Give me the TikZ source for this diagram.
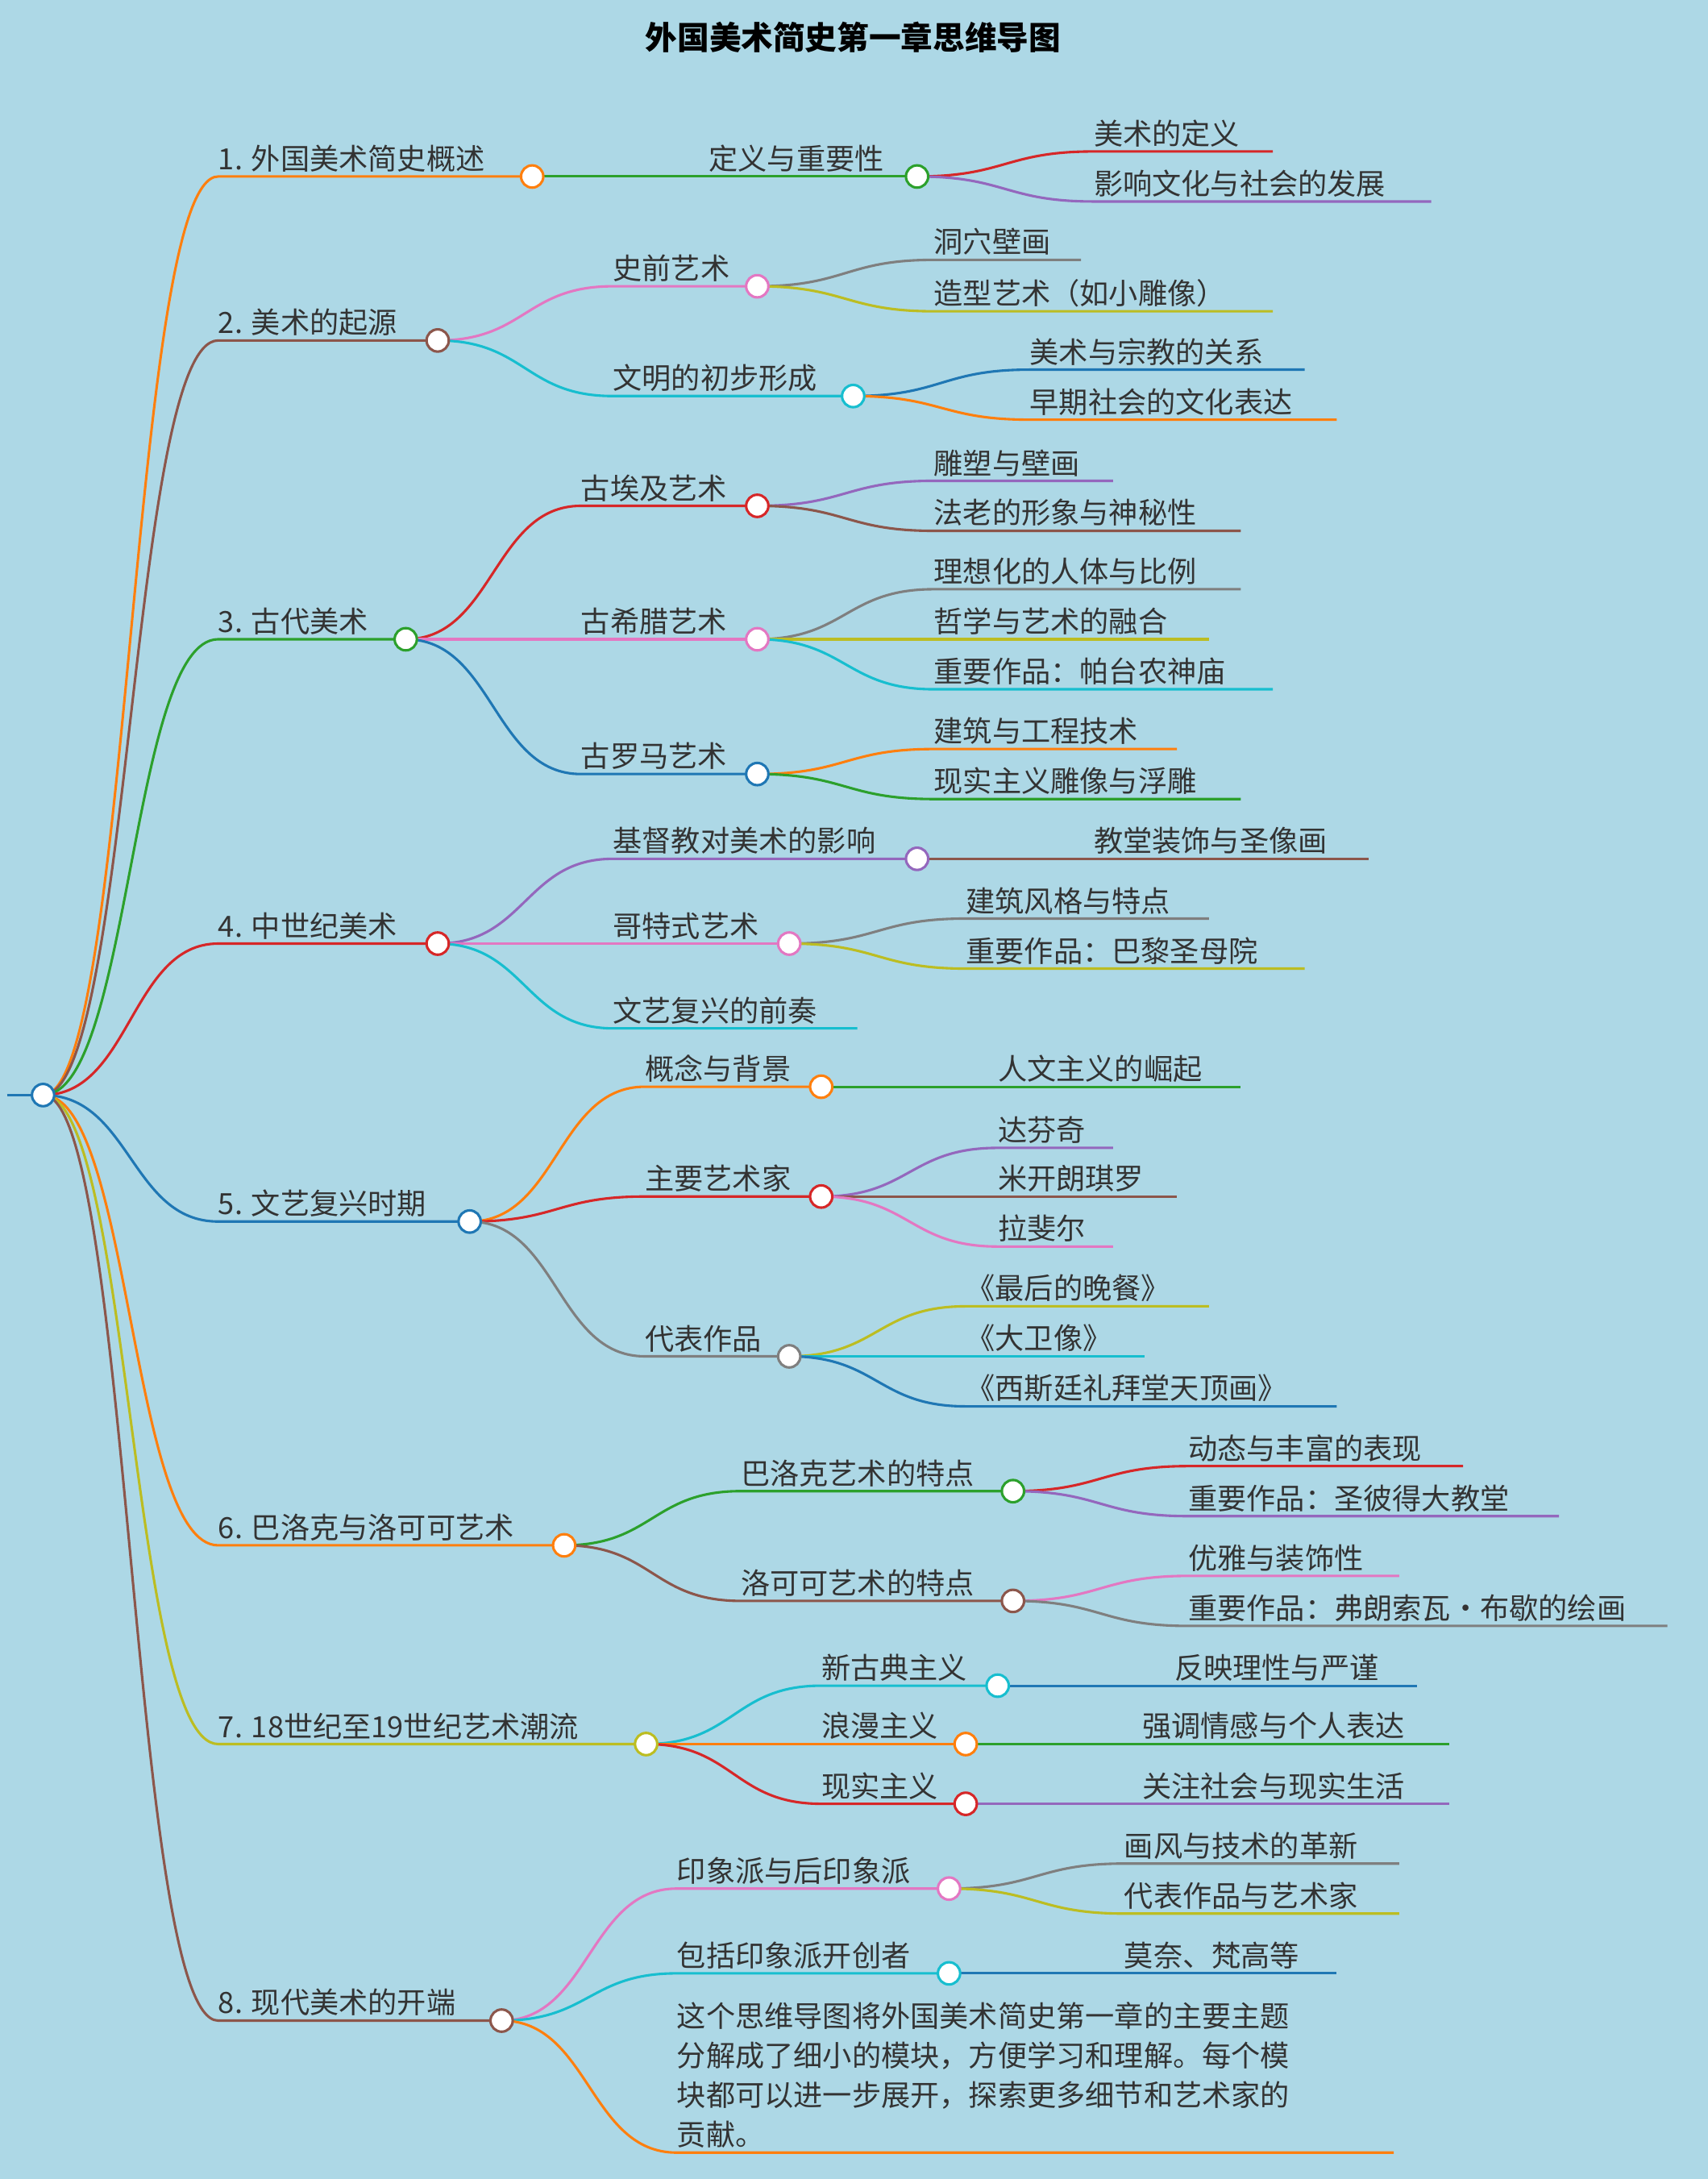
\documentclass[tikz,border=0pt]{standalone}
\usepackage{fontspec}
\setmainfont{Noto Sans CJK SC}
\usetikzlibrary{calc}
\definecolor{cblue}{HTML}{1F77B4}\definecolor{corange}{HTML}{FF7F0E}
\definecolor{cgreen}{HTML}{2CA02C}\definecolor{cred}{HTML}{D62728}
\definecolor{cpurple}{HTML}{9467BD}\definecolor{cbrown}{HTML}{8C564B}
\definecolor{cpink}{HTML}{E377C2}\definecolor{cgray}{HTML}{7F7F7F}
\definecolor{colive}{HTML}{BCBD22}\definecolor{ccyan}{HTML}{17BECF}
\definecolor{bg}{HTML}{ADD8E6}\definecolor{txt}{HTML}{333333}
\pgfdeclarelayer{fg}\pgfsetlayers{main,fg}
\tikzset{edge/.style={line width=1.8pt},
 lbl/.style={anchor=south west,inner xsep=0pt,inner ysep=3pt,text=txt,font=\fontsize{21}{26}\selectfont},
 dot/.style={circle,fill=white,line width=1.8pt,minimum size=16pt,inner sep=0pt}}
% #1 parent, #2 name, #3 startx, #4 y, #5 endx, #6 color, #7 text
\newcommand\br[7]{%
 \coordinate (#2s) at (#3,#4);\coordinate (#2) at (#5,#4);
 \draw[edge,#6] let \p1=(#1),\p2=(#2s) in (\p1) .. controls (\x1/2+\x2/2,\y1) and (\x1/2+\x2/2,\y2) .. (\p2) -- (#2);
 \node[lbl] (#2t) at (#2s) {#7};}
\newcommand\dt[2]{\begin{pgfonlayer}{fg}\node[dot,draw=#2] at (#1) {};\end{pgfonlayer}}
\begin{document}
\begin{tikzpicture}[x=1pt,y=-1pt]
\useasboundingbox[fill=bg] (0,0) rectangle (1229,1568);
\node[font=\fontsize{23}{28}\selectfont\bfseries,text=black] (title) at (614,27) {外国美术简史第一章思维导图};
\coordinate (r0) at (5,788);\coordinate (r) at (31,788);
\draw[edge,cblue] (r0) -- (r); \dt{r}{cblue}
% level 1
\br{r}{a}{157}{127}{383}{corange}{1. 外国美术简史概述}\dt{a}{corange}
\br{r}{b}{157}{245}{315}{cbrown}{2. 美术的起源}\dt{b}{cbrown}
\br{r}{c}{157}{460}{292}{cgreen}{3. 古代美术}\dt{c}{cgreen}
\br{r}{d}{157}{679}{315}{cred}{4. 中世纪美术}\dt{d}{cred}
\br{r}{e}{157}{879}{338}{cblue}{5. 文艺复兴时期}\dt{e}{cblue}
\br{r}{f}{157}{1112}{406}{corange}{6. 巴洛克与洛可可艺术}\dt{f}{corange}
\br{r}{g}{157}{1255}{465}{colive}{7. 18世纪至19世纪艺术潮流}\dt{g}{colive}
\br{r}{h}{157}{1454}{361}{cbrown}{8. 现代美术的开端}\dt{h}{cbrown}
% 1
\br{a}{a1}{510}{127}{660}{cgreen}{定义与重要性}\dt{a1}{cgreen}
\br{a1}{a11}{787}{109}{916}{cred}{美术的定义}
\br{a1}{a12}{787}{145}{1030}{cpurple}{影响文化与社会的发展}
% 2
\br{b}{b1}{441}{206}{545}{cpink}{史前艺术}\dt{b1}{cpink}
\br{b1}{b11}{672}{187}{778}{cgray}{洞穴壁画}
\br{b1}{b12}{672}{224}{916}{colive}{造型艺术（如小雕像）}
\br{b}{b2}{441}{285}{614}{ccyan}{文明的初步形成}\dt{b2}{ccyan}
\br{b2}{b21}{741}{266}{939}{cblue}{美术与宗教的关系}
\br{b2}{b22}{741}{302}{962}{corange}{早期社会的文化表达}
% 3
\br{c}{c1}{418}{364}{545}{cred}{古埃及艺术}\dt{c1}{cred}
\br{c1}{c11}{672}{346}{801}{cpurple}{雕塑与壁画}
\br{c1}{c12}{672}{382}{893}{cbrown}{法老的形象与神秘性}
\br{c}{c2}{418}{460}{545}{cpink}{古希腊艺术}\dt{c2}{cpink}
\br{c2}{c21}{672}{424}{893}{cgray}{理想化的人体与比例}
\br{c2}{c22}{672}{460}{870}{colive}{哲学与艺术的融合}
\br{c2}{c23}{672}{496}{916}{ccyan}{重要作品：帕台农神庙}
\br{c}{c3}{418}{557}{545}{cblue}{古罗马艺术}\dt{c3}{cblue}
\br{c3}{c31}{672}{539}{847}{corange}{建筑与工程技术}
\br{c3}{c32}{672}{575}{893}{cgreen}{现实主义雕像与浮雕}
% 4
\br{d}{d1}{441}{618}{660}{cpurple}{基督教对美术的影响}\dt{d1}{cpurple}
\br{d1}{d11}{787}{618}{985}{cbrown}{教堂装饰与圣像画}
\br{d}{d2}{441}{679}{568}{cpink}{哥特式艺术}\dt{d2}{cpink}
\br{d2}{d21}{695}{661}{870}{cgray}{建筑风格与特点}
\br{d2}{d22}{695}{697}{939}{colive}{重要作品：巴黎圣母院}
\br{d}{d3}{441}{740}{617}{ccyan}{文艺复兴的前奏}
% 5
\br{e}{e1}{464}{782}{591}{corange}{概念与背景}\dt{e1}{corange}
\br{e1}{e11}{718}{782}{893}{cgreen}{人文主义的崛起}
\br{e}{e2}{464}{861}{591}{cred}{主要艺术家}\dt{e2}{cred}
\br{e2}{e21}{718}{826}{801}{cpurple}{达芬奇}
\br{e2}{e22}{718}{861}{847}{cbrown}{米开朗琪罗}
\br{e2}{e23}{718}{897}{801}{cpink}{拉斐尔}
\br{e}{e3}{464}{976}{568}{cgray}{代表作品}\dt{e3}{cgray}
\br{e3}{e31}{695}{940}{870}{colive}{《最后的晚餐》}
\br{e3}{e32}{695}{976}{824}{ccyan}{《大卫像》}
\br{e3}{e33}{695}{1012}{962}{cblue}{《西斯廷礼拜堂天顶画》}
% 6
\br{f}{f1}{533}{1073}{729}{cgreen}{巴洛克艺术的特点}\dt{f1}{cgreen}
\br{f1}{f11}{855}{1055}{1053}{cred}{动态与丰富的表现}
\br{f1}{f12}{855}{1091}{1122}{cpurple}{重要作品：圣彼得大教堂}
\br{f}{f2}{533}{1152}{729}{cbrown}{洛可可艺术的特点}\dt{f2}{cbrown}
\br{f2}{f21}{855}{1134}{1007}{cpink}{优雅与装饰性}
\br{f2}{f22}{855}{1170}{1200}{cgray}{重要作品：弗朗索瓦·布歇的绘画}
% 7
\br{g}{g1}{591}{1213}{718}{ccyan}{新古典主义}\dt{g1}{ccyan}
\br{g1}{g11}{845}{1213}{1020}{cblue}{反映理性与严谨}
\br{g}{g2}{591}{1255}{695}{corange}{浪漫主义}\dt{g2}{corange}
\br{g2}{g21}{822}{1255}{1043}{cgreen}{强调情感与个人表达}
\br{g}{g3}{591}{1298}{695}{cred}{现实主义}\dt{g3}{cred}
\br{g3}{g31}{822}{1298}{1043}{cpurple}{关注社会与现实生活}
% 8
\br{h}{h1}{487}{1359}{683}{cpink}{印象派与后印象派}\dt{h1}{cpink}
\br{h1}{h11}{809}{1341}{1007}{cgray}{画风与技术的革新}
\br{h1}{h12}{809}{1377}{1007}{colive}{代表作品与艺术家}
\br{h}{h2}{487}{1420}{683}{ccyan}{包括印象派开创者}\dt{h2}{ccyan}
\br{h2}{h21}{809}{1420}{962}{cblue}{莫奈、梵高等}
\br{h}{h3}{487}{1549}{1003}{corange}{\parbox[b]{490pt}{\raggedright\fontsize{21}{28.5}\selectfont 这个思维导图将外国美术简史第一章的主要主题\\分解成了细小的模块，方便学习和理解。每个模\\块都可以进一步展开，探索更多细节和艺术家的\\贡献。}}
\end{tikzpicture}
\end{document}
